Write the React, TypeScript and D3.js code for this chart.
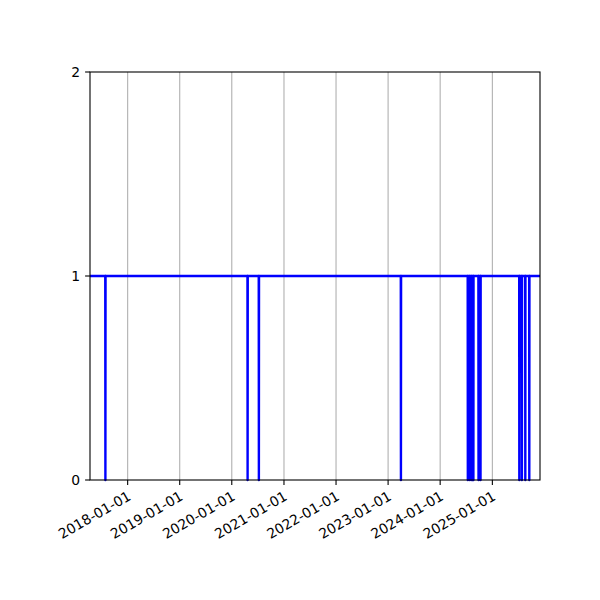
import { useRef, useEffect } from "react";
import * as d3 from "d3";

// series points (date, value): 1 everywhere, single-day drops to 0
const pointDates = [
  "2017-04-12",
  "2017-07-28", "2017-07-29", "2017-07-30",
  "2020-04-20", "2020-04-21", "2020-04-22",
  "2020-07-08", "2020-07-09", "2020-07-10",
  "2023-03-31", "2023-04-01", "2023-04-02",
  "2024-07-12", "2024-07-13", "2024-07-14",
  "2024-07-26", "2024-07-27", "2024-07-28",
  "2024-08-09", "2024-08-10", "2024-08-11",
  "2024-08-20", "2024-08-21", "2024-08-22",
  "2024-09-25", "2024-09-26", "2024-09-27",
  "2024-10-09", "2024-10-10", "2024-10-11",
  "2025-07-08", "2025-07-09", "2025-07-10",
  "2025-07-26", "2025-07-27", "2025-07-28",
  "2025-08-19", "2025-08-20", "2025-08-21",
  "2025-09-16", "2025-09-17", "2025-09-18",
  "2025-12-01",
];
const pointValues = [
  1,
  1, 0, 1,
  1, 0, 1,
  1, 0, 1,
  1, 0, 1,
  1, 0, 1,
  1, 0, 1,
  1, 0, 1,
  1, 0, 1,
  1, 0, 1,
  1, 0, 1,
  1, 0, 1,
  1, 0, 1,
  1, 0, 1,
  1, 0, 1,
  1,
];
const xTickLabels = [
  "2018-01-01", "2019-01-01", "2020-01-01", "2021-01-01",
  "2022-01-01", "2023-01-01", "2024-01-01", "2025-01-01",
];
const yTicks = [0, 1, 2];

const App = () => {
  const svgRef = useRef<SVGSVGElement | null>(null);
  const width = 600;
  const height = 600;
  const margin = { top: 72, right: 60, bottom: 120, left: 90 };

  useEffect(() => {
    if (!svgRef.current) return;
    const svg = d3.select(svgRef.current);
    svg.selectAll("*").remove();

    const parse = d3.utcParse("%Y-%m-%d");
    const data = pointDates.map((d, i) => ({ date: parse(d) as Date, value: pointValues[i] }));

    const x0 = margin.left;
    const x1 = width - margin.right;
    const y0 = height - margin.bottom;
    const y1 = margin.top;

    const xScale = d3.scaleUtc()
      .domain(d3.extent(data, d => d.date) as [Date, Date])
      .range([x0, x1]);
    const yScale = d3.scaleLinear().domain([0, 2]).range([y0, y1]);

    const font = "DejaVu Sans, sans-serif";
    const tickDates = xTickLabels.map(t => parse(t) as Date);

    // vertical grid
    svg.append("g")
      .selectAll("line")
      .data(tickDates)
      .enter()
      .append("line")
      .attr("x1", d => xScale(d))
      .attr("x2", d => xScale(d))
      .attr("y1", y0)
      .attr("y2", y1)
      .attr("stroke", "#b0b0b0")
      .attr("stroke-width", 1.1);

    // series line
    const line = d3.line<{ date: Date; value: number }>()
      .x(d => xScale(d.date))
      .y(d => yScale(d.value));
    svg.append("path")
      .datum(data)
      .attr("d", line)
      .attr("fill", "none")
      .attr("stroke", "#0000ff")
      .attr("stroke-width", 2.4)
      .attr("stroke-linejoin", "round");

    // spines
    svg.append("rect")
      .attr("x", x0)
      .attr("y", y1)
      .attr("width", x1 - x0)
      .attr("height", y0 - y1)
      .attr("fill", "none")
      .attr("stroke", "#000")
      .attr("stroke-width", 1.1);

    // x ticks
    const xt = svg.append("g")
      .selectAll("g")
      .data(tickDates)
      .enter()
      .append("g")
      .attr("transform", d => `translate(${xScale(d)},${y0})`);
    xt.append("line").attr("y2", 4.9).attr("stroke", "#000").attr("stroke-width", 1.1);
    xt.append("text")
      .attr("transform", "translate(-1,9.8) rotate(-30)")
      .attr("dy", "0.76em")
      .attr("text-anchor", "end")
      .attr("font-family", font)
      .attr("font-size", "13.9px")
      .text((_d, i) => xTickLabels[i]);

    // y ticks
    const yt = svg.append("g")
      .selectAll("g")
      .data(yTicks)
      .enter()
      .append("g")
      .attr("transform", d => `translate(${x0},${yScale(d)})`);
    yt.append("line").attr("x2", -4.9).attr("stroke", "#000").attr("stroke-width", 1.1);
    yt.append("text")
      .attr("x", -9.8)
      .attr("dy", "0.35em")
      .attr("text-anchor", "end")
      .attr("font-family", font)
      .attr("font-size", "13.9px")
      .text(d => d);
  }, []);

  return (
    <svg
      ref={svgRef}
      width={width}
      height={height}
      style={{ position: "absolute", left: 0, top: 0, background: "#fff" }}
    ></svg>
  );
};

export default App;
